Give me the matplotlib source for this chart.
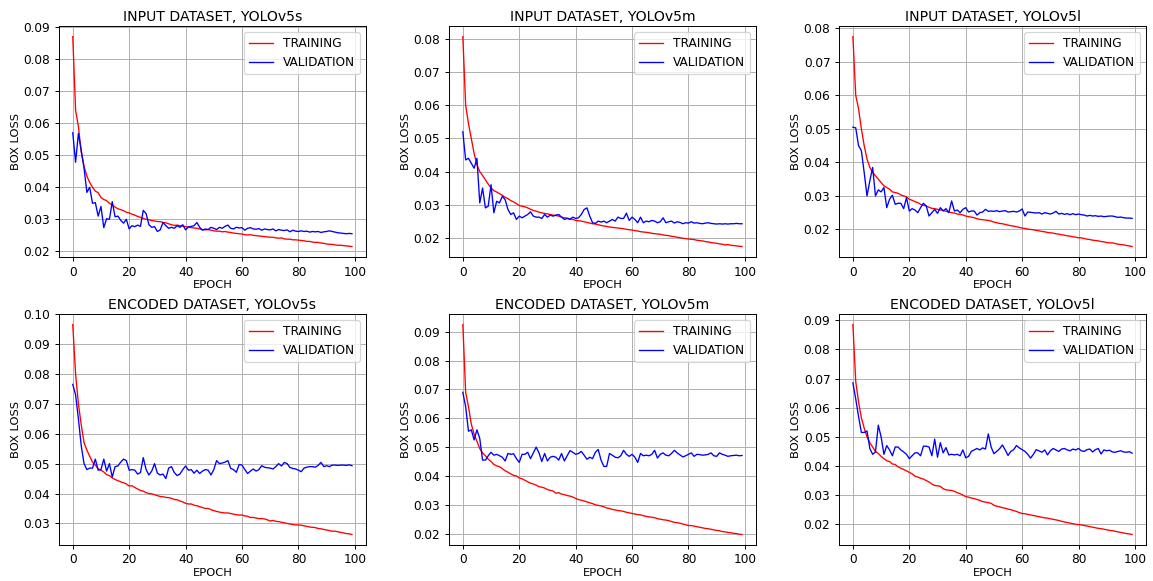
import matplotlib
matplotlib.use("Agg")
import matplotlib.pyplot as plt
import numpy as np

epochs = np.arange(100)

# INPUT DATASET
train_in_s = [
    .0870, .0640, .0590, .0510, .0465, .0435, .0415, .0400, .0388, .0383,
    .0368, .0362, .0358, .0350, .0345, .0338, .0333, .0330, .0327, .0322,
    .0320, .0316, .0313, .0309, .0306, .0303, .0300, .0299, .0296, .0295,
    .0293, .0293, .0290, .0289, .0286, .0283, .0281, .0282, .0280, .0279,
    .0277, .0276, .0274, .0273, .0272, .0270, .0268, .0267, .0268, .0266,
    .0264, .0263, .0263, .0261, .0262, .0260, .0259, .0257, .0256, .0255,
    .0254, .0252, .0251, .0252, .0250, .0249, .0248, .0247, .0246, .0245,
    .0244, .0244, .0242, .0241, .0242, .0239, .0238, .0238, .0236, .0236,
    .0235, .0234, .0233, .0231, .0231, .0229, .0228, .0228, .0226, .0225,
    .0223, .0222, .0222, .0220, .0219, .0219, .0218, .0217, .0216, .0215]
val_in_s = [
    .0570, .0478, .0568, .0515, .0460, .0384, .0400, .0350, .0352, .0310,
    .0340, .0274, .0302, .0300, .0355, .0308, .0310, .0297, .0288, .0300,
    .0270, .0280, .0277, .0282, .0278, .0328, .0318, .0283, .0275, .0277,
    .0262, .0267, .0290, .0280, .0272, .0275, .0272, .0280, .0275, .0283,
    .0267, .0276, .0278, .0280, .0290, .0275, .0266, .0270, .0268, .0275,
    .0272, .0268, .0275, .0272, .0278, .0282, .0272, .0270, .0275, .0273,
    .0274, .0266, .0272, .0274, .0270, .0269, .0271, .0266, .0270, .0268,
    .0267, .0270, .0264, .0268, .0266, .0265, .0267, .0261, .0266, .0263,
    .0262, .0264, .0262, .0263, .0260, .0262, .0261, .0262, .0259, .0261,
    .0262, .0264, .0262, .0260, .0258, .0257, .0256, .0255, .0256, .0255]
train_in_m = [
    .0808, .0600, .0545, .0500, .0455, .0420, .0400, .0388, .0375, .0362,
    .0350, .0342, .0338, .0333, .0328, .0322, .0318, .0312, .0308, .0303,
    .0297, .0295, .0293, .0290, .0286, .0282, .0280, .0277, .0275, .0273,
    .0272, .0270, .0268, .0267, .0265, .0262, .0260, .0259, .0257, .0255,
    .0252, .0251, .0250, .0248, .0246, .0244, .0242, .0241, .0239, .0237,
    .0235, .0234, .0232, .0231, .0230, .0229, .0228, .0227, .0225, .0224,
    .0223, .0221, .0220, .0218, .0217, .0216, .0215, .0213, .0212, .0211,
    .0210, .0208, .0207, .0206, .0204, .0203, .0201, .0200, .0198, .0197,
    .0196, .0195, .0194, .0192, .0191, .0190, .0188, .0187, .0185, .0184,
    .0183, .0181, .0180, .0178, .0179, .0177, .0176, .0175, .0174, .0173]
val_in_m = [
    .0520, .0435, .0440, .0425, .0410, .0440, .0305, .0350, .0290, .0295,
    .0360, .0275, .0310, .0305, .0325, .0315, .0285, .0270, .0275, .0255,
    .0265, .0260, .0265, .0270, .0278, .0265, .0262, .0262, .0258, .0270,
    .0262, .0268, .0265, .0268, .0270, .0262, .0255, .0258, .0255, .0262,
    .0258, .0260, .0270, .0285, .0290, .0265, .0245, .0243, .0250, .0247,
    .0250, .0245, .0250, .0255, .0250, .0262, .0258, .0258, .0274, .0252,
    .0262, .0255, .0245, .0262, .0245, .0250, .0248, .0252, .0250, .0245,
    .0248, .0260, .0245, .0248, .0250, .0244, .0248, .0246, .0242, .0245,
    .0244, .0248, .0244, .0245, .0243, .0242, .0244, .0245, .0243, .0242,
    .0241, .0242, .0241, .0242, .0241, .0242, .0242, .0243, .0242, .0242]
train_in_l = [
    .0775, .0600, .0560, .0500, .0450, .0410, .0385, .0370, .0360, .0350,
    .0340, .0330, .0325, .0320, .0312, .0310, .0308, .0303, .0300, .0297,
    .0290, .0287, .0283, .0280, .0275, .0272, .0270, .0266, .0263, .0262,
    .0260, .0258, .0257, .0254, .0252, .0250, .0249, .0246, .0245, .0243,
    .0240, .0238, .0237, .0235, .0232, .0230, .0229, .0228, .0227, .0225,
    .0222, .0220, .0218, .0217, .0215, .0213, .0211, .0210, .0208, .0206,
    .0204, .0203, .0201, .0200, .0199, .0197, .0196, .0194, .0193, .0191,
    .0190, .0189, .0187, .0186, .0184, .0183, .0181, .0180, .0178, .0177,
    .0175, .0175, .0173, .0171, .0170, .0168, .0167, .0166, .0164, .0163,
    .0161, .0160, .0160, .0158, .0156, .0155, .0154, .0152, .0151, .0149]
val_in_l = [
    .0505, .0503, .0450, .0435, .0370, .0300, .0345, .0385, .0300, .0318,
    .0312, .0325, .0265, .0290, .0302, .0275, .0278, .0278, .0262, .0295,
    .0255, .0262, .0258, .0250, .0265, .0278, .0270, .0240, .0250, .0260,
    .0248, .0265, .0255, .0262, .0250, .0285, .0255, .0258, .0250, .0260,
    .0265, .0252, .0255, .0255, .0243, .0250, .0252, .0260, .0254, .0255,
    .0254, .0256, .0253, .0255, .0256, .0252, .0253, .0254, .0252, .0255,
    .0261, .0240, .0252, .0251, .0250, .0249, .0250, .0246, .0250, .0248,
    .0246, .0249, .0254, .0246, .0248, .0245, .0247, .0244, .0247, .0244,
    .0246, .0244, .0243, .0240, .0242, .0240, .0241, .0239, .0240, .0238,
    .0239, .0240, .0240, .0238, .0236, .0237, .0235, .0234, .0234, .0233]

# ENCODED DATASET
train_enc_s = [
    .0965, .0800, .0700, .0630, .0570, .0545, .0525, .0505, .0495, .0483,
    .0478, .0472, .0463, .0460, .0452, .0447, .0443, .0439, .0436, .0432,
    .0425, .0426, .0420, .0415, .0410, .0408, .0403, .0400, .0399, .0396,
    .0393, .0390, .0389, .0387, .0386, .0384, .0380, .0379, .0375, .0372,
    .0367, .0365, .0365, .0361, .0359, .0356, .0353, .0350, .0350, .0346,
    .0343, .0340, .0338, .0336, .0335, .0335, .0333, .0331, .0329, .0328,
    .0328, .0325, .0324, .0320, .0320, .0318, .0316, .0316, .0315, .0312,
    .0308, .0310, .0307, .0306, .0304, .0302, .0300, .0298, .0296, .0295,
    .0295, .0294, .0292, .0290, .0288, .0287, .0286, .0283, .0282, .0280,
    .0278, .0276, .0274, .0274, .0272, .0270, .0268, .0266, .0265, .0263]
val_enc_s = [
    .0765, .0730, .0650, .0560, .0500, .0480, .0485, .0485, .0515, .0478,
    .0480, .0515, .0475, .0500, .0455, .0490, .0492, .0505, .0515, .0510,
    .0478, .0480, .0478, .0465, .0470, .0520, .0480, .0462, .0475, .0500,
    .0468, .0462, .0465, .0450, .0485, .0490, .0470, .0460, .0465, .0480,
    .0492, .0478, .0480, .0468, .0478, .0467, .0475, .0480, .0478, .0462,
    .0480, .0510, .0500, .0502, .0505, .0510, .0484, .0480, .0471, .0497,
    .0495, .0480, .0467, .0475, .0482, .0475, .0480, .0493, .0488, .0486,
    .0485, .0482, .0490, .0500, .0492, .0504, .0500, .0487, .0484, .0482,
    .0478, .0473, .0485, .0488, .0490, .0490, .0488, .0494, .0504, .0490,
    .0493, .0490, .0495, .0495, .0494, .0495, .0495, .0494, .0496, .0493]
train_enc_m = [
    .0925, .0690, .0640, .0580, .0545, .0520, .0495, .0480, .0470, .0458,
    .0450, .0440, .0435, .0432, .0425, .0418, .0413, .0407, .0402, .0400,
    .0393, .0390, .0385, .0380, .0375, .0372, .0368, .0363, .0361, .0358,
    .0353, .0350, .0348, .0340, .0342, .0337, .0335, .0332, .0330, .0327,
    .0322, .0318, .0316, .0313, .0310, .0307, .0304, .0300, .0298, .0296,
    .0293, .0289, .0287, .0284, .0282, .0280, .0279, .0277, .0274, .0272,
    .0270, .0268, .0266, .0265, .0262, .0260, .0258, .0257, .0255, .0252,
    .0250, .0248, .0247, .0245, .0242, .0239, .0238, .0236, .0233, .0231,
    .0228, .0228, .0226, .0224, .0222, .0220, .0218, .0217, .0215, .0213,
    .0211, .0210, .0207, .0206, .0204, .0203, .0201, .0200, .0198, .0197]
val_enc_m = [
    .0690, .0640, .0555, .0560, .0525, .0560, .0530, .0455, .0455, .0470,
    .0482, .0472, .0475, .0470, .0465, .0452, .0478, .0475, .0477, .0460,
    .0447, .0475, .0475, .0482, .0460, .0480, .0500, .0480, .0450, .0478,
    .0452, .0465, .0468, .0465, .0455, .0478, .0452, .0470, .0488, .0482,
    .0475, .0478, .0485, .0472, .0458, .0465, .0460, .0482, .0492, .0455,
    .0433, .0433, .0478, .0472, .0465, .0463, .0470, .0489, .0475, .0468,
    .0475, .0465, .0447, .0478, .0470, .0472, .0470, .0475, .0489, .0462,
    .0475, .0480, .0472, .0470, .0478, .0489, .0480, .0473, .0466, .0470,
    .0475, .0480, .0468, .0475, .0474, .0472, .0473, .0475, .0480, .0470,
    .0468, .0480, .0475, .0472, .0468, .0470, .0471, .0472, .0470, .0471]
train_enc_l = [
    .0885, .0690, .0620, .0565, .0530, .0500, .0480, .0465, .0450, .0443,
    .0433, .0425, .0418, .0415, .0407, .0405, .0397, .0392, .0388, .0383,
    .0378, .0373, .0365, .0362, .0358, .0355, .0350, .0345, .0338, .0333,
    .0332, .0330, .0322, .0318, .0317, .0316, .0313, .0308, .0305, .0300,
    .0295, .0293, .0290, .0288, .0285, .0282, .0278, .0276, .0274, .0272,
    .0265, .0262, .0260, .0257, .0255, .0252, .0250, .0247, .0244, .0240,
    .0237, .0236, .0234, .0232, .0230, .0228, .0226, .0224, .0222, .0221,
    .0219, .0217, .0215, .0213, .0210, .0208, .0206, .0204, .0202, .0200,
    .0199, .0198, .0196, .0194, .0192, .0190, .0188, .0186, .0185, .0183,
    .0181, .0179, .0178, .0176, .0174, .0172, .0170, .0168, .0167, .0165]
val_enc_l = [
    .0685, .0630, .0570, .0515, .0515, .0520, .0460, .0440, .0448, .0540,
    .0500, .0440, .0470, .0455, .0435, .0465, .0465, .0455, .0448, .0440,
    .0425, .0435, .0445, .0445, .0435, .0468, .0468, .0465, .0435, .0492,
    .0430, .0480, .0445, .0463, .0438, .0440, .0438, .0440, .0435, .0455,
    .0428, .0433, .0450, .0455, .0460, .0455, .0462, .0458, .0510, .0465,
    .0442, .0450, .0459, .0472, .0455, .0436, .0450, .0456, .0470, .0462,
    .0456, .0450, .0440, .0427, .0440, .0456, .0452, .0447, .0455, .0438,
    .0452, .0460, .0455, .0450, .0458, .0460, .0455, .0452, .0458, .0455,
    .0460, .0452, .0450, .0456, .0458, .0448, .0456, .0460, .0441, .0455,
    .0452, .0454, .0448, .0447, .0450, .0452, .0448, .0447, .0449, .0444]

titles = ['INPUT DATASET, YOLOv5s', 'INPUT DATASET, YOLOv5m', 'INPUT DATASET, YOLOv5l',
          'ENCODED DATASET, YOLOv5s', 'ENCODED DATASET, YOLOv5m', 'ENCODED DATASET, YOLOv5l']
train_all = [train_in_s, train_in_m, train_in_l, train_enc_s, train_enc_m, train_enc_l]
val_all = [val_in_s, val_in_m, val_in_l, val_enc_s, val_enc_m, val_enc_l]

dpi = 87.4
fig, axes = plt.subplots(2, 3, figsize=(1153 / dpi, 581 / dpi), dpi=dpi)
fig.subplots_adjust(left=0.051, right=0.994, top=0.955, bottom=0.062,
                    wspace=0.27, hspace=0.247)

for ax, title, tr, va in zip(axes.flat, titles, train_all, val_all):
    ax.plot(epochs, tr, color='red', lw=1.1, label='TRAINING')
    ax.plot(epochs, va, color='blue', lw=1.1, label='VALIDATION')
    ax.set_title(title, fontsize=11.5, pad=4)
    ax.set_xlabel('EPOCH', fontsize=9.5, labelpad=1)
    ax.set_ylabel('BOX LOSS', fontsize=9.5, labelpad=2)
    ax.tick_params(labelsize=10)
    ax.grid(True)
    ax.legend(loc='upper right')

fig.savefig('out.png', dpi=dpi)
